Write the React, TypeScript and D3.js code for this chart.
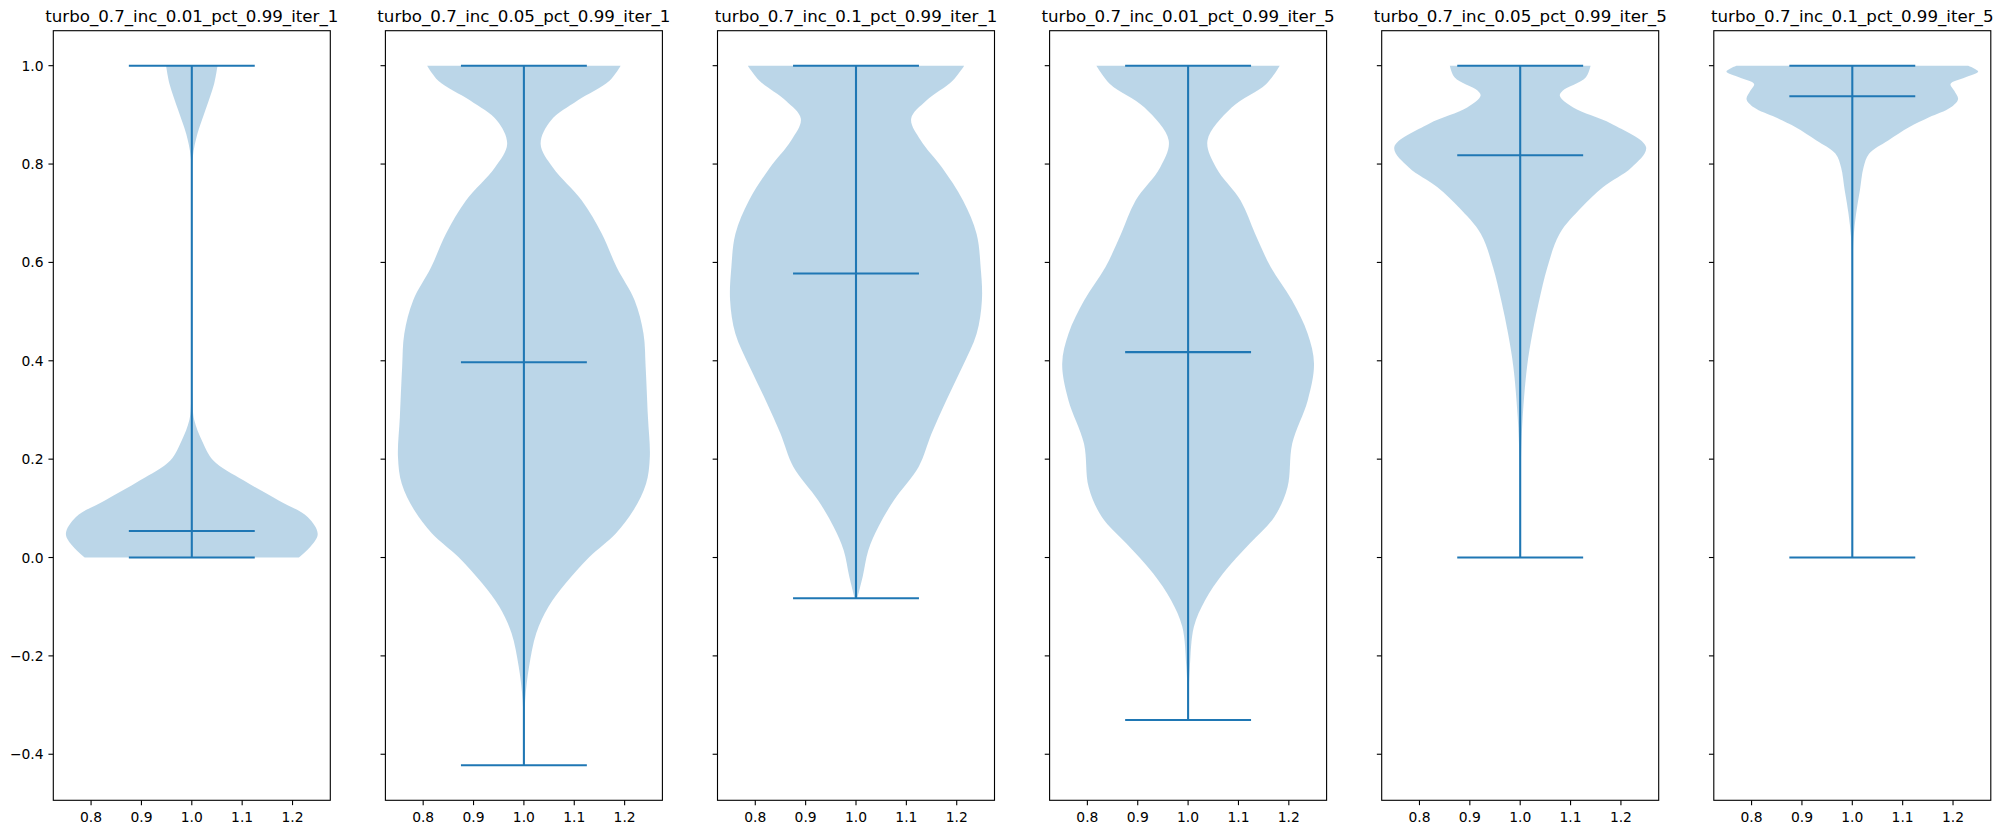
import React, { useEffect } from 'react';
import * as d3 from 'd3';

// ---- data ----
const titles = [
  'turbo_0.7_inc_0.01_pct_0.99_iter_1',
  'turbo_0.7_inc_0.05_pct_0.99_iter_1',
  'turbo_0.7_inc_0.1_pct_0.99_iter_1',
  'turbo_0.7_inc_0.01_pct_0.99_iter_5',
  'turbo_0.7_inc_0.05_pct_0.99_iter_5',
  'turbo_0.7_inc_0.1_pct_0.99_iter_5',
];
const mins = [0.0, -0.4225, -0.0827, -0.3305, 0.0, 0.0];
const maxs = [1.0, 1.0, 1.0, 1.0, 1.0, 1.0];
const middles = [0.054, 0.397, 0.5775, 0.4176, 0.818, 0.9377];

// density profiles: [value, relative half-width (1 = widest)]
const profileInc001Iter1: [number, number][] = [
  [1.0, 0.204], [0.963, 0.177], [0.909, 0.107], [0.861, 0.044], [0.814, 0.008],
  [0.75, 0.003], [0.5, 0.003], [0.32, 0.005], [0.279, 0.02], [0.238, 0.08],
  [0.198, 0.169], [0.157, 0.41], [0.116, 0.69], [0.0825, 0.92], [0.048, 1.0],
  [0.0215, 0.94], [0.0, 0.85],
];
const profileInc005Iter1: [number, number][] = [
  [1.0, 0.768], [0.9695, 0.68], [0.929, 0.426], [0.888, 0.213], [0.841, 0.133],
  [0.793, 0.23], [0.726, 0.46], [0.658, 0.62], [0.59, 0.737], [0.523, 0.879],
  [0.455, 0.95], [0.387, 0.967], [0.286, 0.985], [0.204, 1.0], [0.15, 0.97],
  [0.096, 0.87], [0.049, 0.73], [0.001, 0.52], [-0.053, 0.33], [-0.1, 0.195],
  [-0.154, 0.098], [-0.222, 0.041], [-0.29, 0.01], [-0.357, 0.003], [-0.4225, 0.002],
];
const profileInc01Iter1: [number, number][] = [
  [1.0, 0.859], [0.9695, 0.767], [0.929, 0.559], [0.892, 0.438], [0.848, 0.515],
  [0.793, 0.683], [0.726, 0.85], [0.658, 0.958], [0.59, 0.99], [0.523, 1.0],
  [0.455, 0.958], [0.387, 0.843], [0.3195, 0.717], [0.252, 0.6], [0.184, 0.497],
  [0.116, 0.3], [0.062, 0.177], [0.015, 0.098], [-0.039, 0.053], [-0.0827, 0.01],
];
const profileInc001Iter5: [number, number][] = [
  [1.0, 0.728], [0.963, 0.621], [0.915, 0.346], [0.848, 0.154], [0.793, 0.222],
  [0.726, 0.417], [0.658, 0.533], [0.59, 0.657], [0.523, 0.825], [0.455, 0.95],
  [0.394, 1.0], [0.3195, 0.95], [0.2316, 0.827], [0.1434, 0.79], [0.0825, 0.685],
  [0.0284, 0.49], [-0.0325, 0.277], [-0.087, 0.135], [-0.141, 0.046], [-0.222, 0.014],
  [-0.29, 0.003], [-0.3305, 0.002],
];
const profileInc005Iter5: [number, number][] = [
  [1.0, 0.559], [0.976, 0.52], [0.949, 0.337], [0.939, 0.315], [0.915, 0.421],
  [0.882, 0.724], [0.834, 1.0], [0.793, 0.884], [0.753, 0.657], [0.712, 0.488],
  [0.658, 0.312], [0.59, 0.216], [0.523, 0.151], [0.455, 0.096], [0.387, 0.054],
  [0.286, 0.02], [0.2, 0.006], [0.1, 0.003], [0.0, 0.002],
];
const profileInc01Iter5: [number, number][] = [
  [1.0, 0.921], [0.988, 1.0], [0.976, 0.895], [0.963, 0.78], [0.949, 0.81],
  [0.932, 0.84], [0.915, 0.78], [0.895, 0.61], [0.875, 0.45], [0.848, 0.285],
  [0.821, 0.133], [0.793, 0.089], [0.746, 0.06], [0.699, 0.03], [0.651, 0.01],
  [0.6, 0.004], [0.3, 0.002], [0.0, 0.002],
];
const profiles = [
  profileInc001Iter1, profileInc005Iter1, profileInc01Iter1,
  profileInc001Iter5, profileInc005Iter5, profileInc01Iter5,
];
const yTicks = [-0.4, -0.2, 0.0, 0.2, 0.4, 0.6, 0.8, 1.0];
const xTicks = [0.8, 0.9, 1.0, 1.1, 1.2];

// ---- layout ----
const W = 2004;
const H = 834;
const panelLeft0 = 53.3;
const panelPitch = 332.1;
const panelW = 277;
const top = 30.7;
const bottom = 800.3;
const C0 = '#1f77b4';
const FONT = 'DejaVu Sans, sans-serif';
const tickLen = 4.86;
const spineW = 1.11;
const lineW = 2.08;
const position = 1.0;
const halfWidth = 0.25;
const lineHalf = 0.125;

const dataMin = d3.min(mins) as number;
const dataMax = d3.max(maxs) as number;
const yMargin = (dataMax - dataMin) * 0.05;
const y = d3.scaleLinear().domain([dataMin - yMargin, dataMax + yMargin]).range([bottom, top]);
const fmt = (v: number) => d3.format('.1f')(v).replace('-', '\u2212');

export default function App() {
  useEffect(() => {
    document.body.style.margin = '0';
  }, []);
  return (
    <svg width={W} height={H} style={{ position: 'absolute', left: 0, top: 0, background: '#fff' }}
      fontFamily={FONT}>
      <rect x={0} y={0} width={W} height={H} fill="#fff" />
      {titles.map((title, i) => {
        const left = panelLeft0 + i * panelPitch;
        const x = d3.scaleLinear()
          .domain([position - halfWidth - 0.05 * 2 * halfWidth, position + halfWidth + 0.05 * 2 * halfWidth])
          .range([left, left + panelW]);
        const cx = x(position);
        const hw = x(position + halfWidth) - cx;
        const area = d3.area<[number, number]>()
          .y(d => y(d[0]))
          .x0(d => cx - d[1] * hw)
          .x1(d => cx + d[1] * hw)
          .curve(d3.curveCatmullRom.alpha(0.5));
        const lx0 = x(position - lineHalf);
        const lx1 = x(position + lineHalf);
        return (
          <g key={title}>
            <path d={area(profiles[i]) || ''} fill={C0} fillOpacity={0.3} stroke="none" />
            <line x1={cx} x2={cx} y1={y(mins[i])} y2={y(maxs[i])} stroke={C0} strokeWidth={lineW} />
            <line x1={lx0} x2={lx1} y1={y(maxs[i])} y2={y(maxs[i])} stroke={C0} strokeWidth={lineW} />
            <line x1={lx0} x2={lx1} y1={y(mins[i])} y2={y(mins[i])} stroke={C0} strokeWidth={lineW} />
            <line x1={lx0} x2={lx1} y1={y(middles[i])} y2={y(middles[i])} stroke={C0} strokeWidth={lineW} />
            <rect x={left} y={top} width={panelW} height={bottom - top} fill="none" stroke="#000" strokeWidth={spineW} />
            {yTicks.map(t => (
              <g key={'y' + t}>
                <line x1={left - tickLen} x2={left} y1={y(t)} y2={y(t)} stroke="#000" strokeWidth={spineW} />
                {i === 0 && (
                  <text x={left - tickLen - 4.86} y={y(t)} dy="0.36em" textAnchor="end" fontSize={13.89} fill="#000">
                    {fmt(t)}
                  </text>
                )}
              </g>
            ))}
            {xTicks.map(t => (
              <g key={'x' + t}>
                <line x1={x(t)} x2={x(t)} y1={bottom} y2={bottom + tickLen} stroke="#000" strokeWidth={spineW} />
                <text x={x(t)} y={bottom + 21.4} textAnchor="middle" fontSize={13.89} fill="#000">
                  {fmt(t)}
                </text>
              </g>
            ))}
            <text x={left + panelW / 2} y={top - 8.9} textAnchor="middle" fontSize={16.67} fill="#000">
              {title}
            </text>
          </g>
        );
      })}
    </svg>
  );
}
